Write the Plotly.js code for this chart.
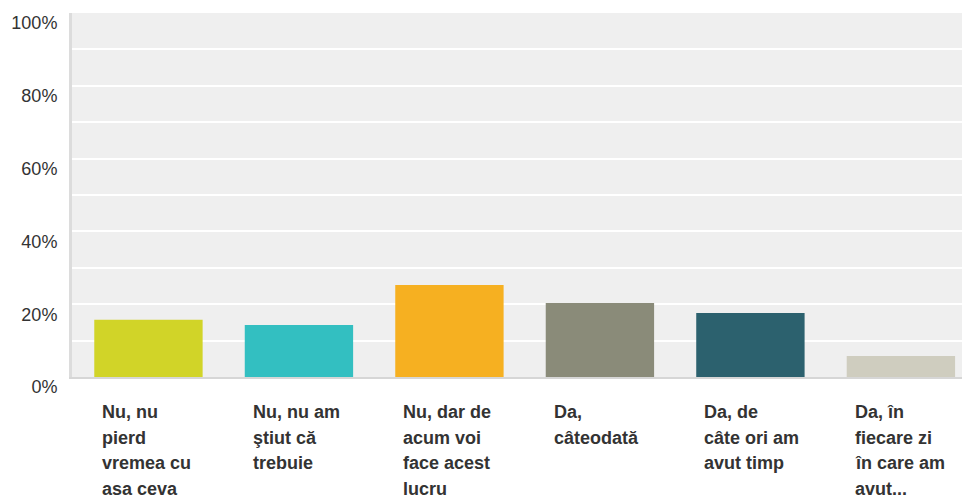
<!DOCTYPE html>
<html>
<head>
<meta charset="utf-8">
<script src="https://cdn.plot.ly/plotly-3.0.1.min.js"></script>
<style>html,body{margin:0;padding:0;background:#fff;}</style>
</head>
<body>
<div id="chart" style="width:962px;height:495px;"></div>
<script>
const categories = [
  "Nu, nu<br>pierd<br>vremea cu<br>aşa ceva",
  "Nu, nu am<br>ştiut că<br>trebuie",
  "Nu, dar de<br>acum voi<br>face acest<br>lucru",
  "Da,<br>câteodată",
  "Da, de<br>câte ori am<br>avut timp",
  "Da, în<br>fiecare zi<br>în care am<br>avut..."
];
const values = [15.7, 14.3, 25.3, 20.3, 17.6, 5.8];
const barColors = ["#d1d428", "#33bfc1", "#f6b021", "#8a8b79", "#2c616e", "#cfcdbf"];
const yTickVals = [0, 20, 40, 60, 80, 100];
const yTickText = ["0%", "20%", "40%", "60%", "80%", "100%"];

const xIdx = categories.map((_, i) => i);
const barWidth = 0.72;

const annotations = [];
categories.forEach((lbl, i) => {
  lbl.split("<br>").forEach((line, j) => {
    annotations.push({
      xref: "x", yref: "paper",
      x: i - barWidth / 2, y: 0,
      xanchor: "left", yanchor: "top",
      xshift: 6, yshift: -23 - j * 25.5,
      text: "<b>" + line + "</b>",
      showarrow: false,
      align: "left",
      font: {family: "Liberation Sans, Arial, sans-serif", size: 18, color: "#333333"}
    });
  });
});

const trace = {
  type: "bar",
  x: xIdx,
  y: values,
  width: barWidth,
  marker: {color: barColors},
  hoverinfo: "skip"
};

const layout = {
  width: 962, height: 495,
  margin: {l: 72, r: 0, t: 13, b: 118, pad: 0},
  paper_bgcolor: "#ffffff",
  plot_bgcolor: "#efefef",
  showlegend: false,
  xaxis: {
    range: [-0.508, 5.406],
    showticklabels: false, ticks: "",
    showgrid: false, zeroline: false,
    showline: true, linecolor: "#d6d6d6", linewidth: 2,
    fixedrange: true
  },
  yaxis: {
    range: [0, 100],
    tickvals: yTickVals, ticktext: yTickText,
    ticks: "", showgrid: true, gridcolor: "#ffffff", gridwidth: 2,
    minor: {dtick: 10, showgrid: true, gridcolor: "#ffffff", gridwidth: 2, ticks: ""},
    zeroline: false,
    showline: true, linecolor: "#dcdcdc", linewidth: 3,
    ticklabelstandoff: 8,
    ticklabelshift: 10,
    tickfont: {family: "Liberation Sans, Arial, sans-serif", size: 18, color: "#333333"},
    fixedrange: true
  },
  annotations: annotations
};

Plotly.newPlot("chart", [trace], layout, {displayModeBar: false, staticPlot: true});
</script>
</body>
</html>
